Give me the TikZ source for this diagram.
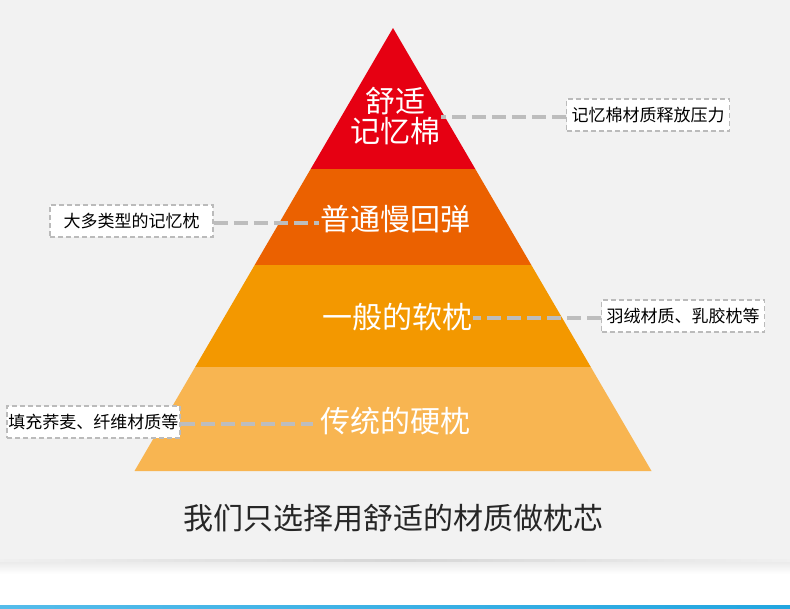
\documentclass[tikz,border=0pt]{standalone}
\usepackage{fontspec}
\newfontfamily\cjk{Noto Sans CJK SC}
\definecolor{bg}{HTML}{F2F2F2}
\definecolor{pred}{HTML}{E60012}
\definecolor{pdor}{HTML}{EB6100}
\definecolor{por}{HTML}{F39800}
\definecolor{plor}{HTML}{F8B551}
\definecolor{dashgray}{HTML}{BDBDBD}
\definecolor{boxgray}{HTML}{BBBBBB}
\definecolor{blueline}{HTML}{22A6E0}
\definecolor{bluelight}{HTML}{55BCEA}
\begin{document}
\begin{tikzpicture}[x=1pt,y=-1pt,
  tier/.style={text=white,font=\cjk\fontsize{30}{30}\selectfont,inner sep=1pt,align=center},
  note/.style={draw=boxgray,line width=1.5pt,dash pattern=on 5pt off 3pt,fill=white,
    font=\cjk\fontsize{17}{17}\selectfont,text=black,minimum height=32pt,inner sep=0pt},
  link/.style={draw=dashgray,line width=3.5pt,dash pattern=on 14pt off 6pt}]
\useasboundingbox (0,0) rectangle (790,608);
% background
\fill[bg] (0,0) rectangle (790,560);
\fill[white] (0,560) rectangle (790,608);
\shade[top color=black!9,bottom color=white] (0,560.5) rectangle (790,574);
\shade[left color=black!6,right color=black!6,middle color=black!16] (0,559.5) rectangle (790,561);
\shade[left color=bluelight,right color=blueline] (0,605.5) rectangle (790,608);
% pyramid bands
\fill[pred] (393,28) -- (475.3,169) -- (310.7,169) -- cycle;
\fill[pdor] (310.7,169) -- (475.3,169) -- (531.3,265) -- (254.7,265) -- cycle;
\fill[por] (254.7,265) -- (531.3,265) -- (590.8,367) -- (195.2,367) -- cycle;
\fill[plor] (195.2,367) -- (590.8,367) -- (651.5,471) -- (134.5,471) -- cycle;
% tier texts
\node[tier] (t1) at (395,116.5) {舒适\\记忆棉};
\node[tier] (t2) at (395,219) {普通慢回弹};
\node[tier] (t3) at (397,317) {一般的软枕};
\node[tier] (t4) at (395,421) {传统的硬枕};
% notes
\node[note,minimum width=163pt] (b1) at (648,115) {记忆棉材质释放压力};
\node[note,minimum width=163pt] (b2) at (131.5,221) {大多类型的记忆枕};
\node[note,minimum width=163pt] (b3) at (683,316) {羽绒材质、乳胶枕等};
\node[note,minimum width=173pt] (b4) at (93.5,422) {填充荞麦、纤维材质等};
% connectors
\draw[link] ([yshift=-2pt]b1.west) -- ([yshift=-2pt]b1.west -| t1.east);
\draw[link] ([yshift=-2pt]b2.east) -- ([yshift=-2pt]b2.east -| t2.west);
\draw[link] ([yshift=-2pt]b3.west) -- ([yshift=-2pt]b3.west -| t3.east);
\draw[link] ([yshift=-2pt]b4.east) -- ([yshift=-2pt,xshift=-6pt]b4.east -| t4.west);
% caption
\node[font=\cjk\fontsize{30}{30}\selectfont,text=black!85] (cap) at (393,518) {我们只选择用舒适的材质做枕芯};
\end{tikzpicture}
\end{document}
